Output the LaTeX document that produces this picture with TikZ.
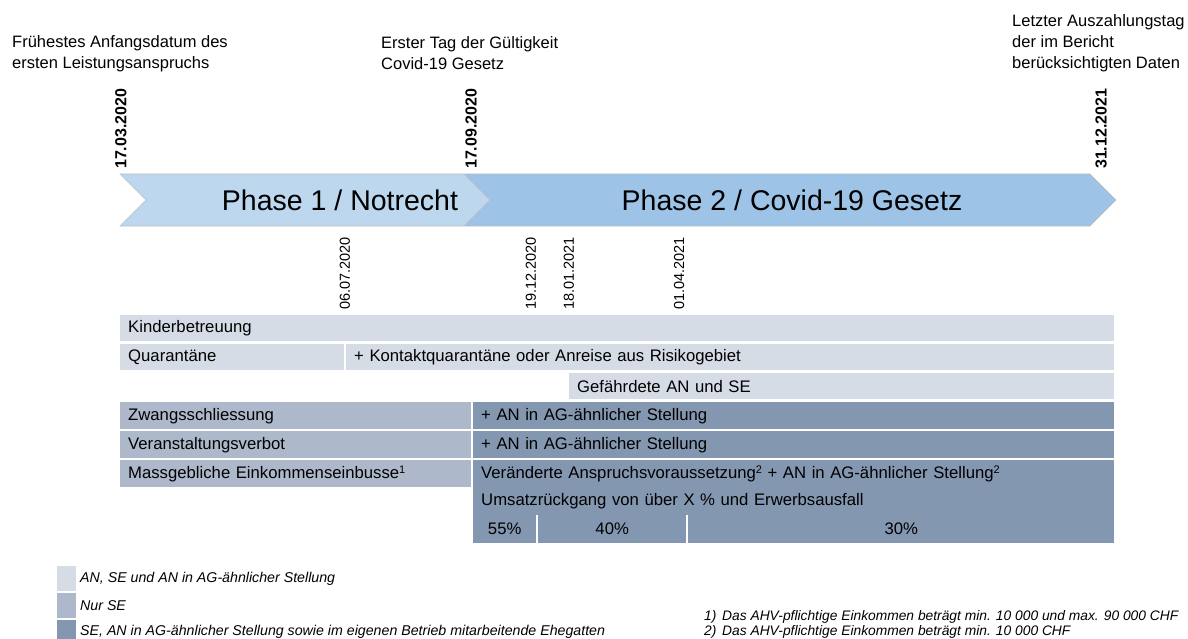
\documentclass[tikz,border=0pt]{standalone}
\usepackage{fontspec}
\setmainfont{Liberation Sans}
\usetikzlibrary{positioning}

\definecolor{phaseone}{HTML}{BDD7EE}
\definecolor{phasetwo}{HTML}{9DC3E6}
\definecolor{allrow}{HTML}{D6DCE5}
\definecolor{serow}{HTML}{ADB9CA}
\definecolor{agrow}{HTML}{8497B0}

\tikzset{
  cell/.style={anchor=north west, inner xsep=8pt, inner ysep=0pt, align=left,
    font=\fontsize{16.7}{19}\selectfont},
  pct/.style={anchor=north west, inner sep=0pt, align=center,
    minimum height=28pt, fill=agrow, font=\fontsize{16.7}{19}\selectfont},
  bigdate/.style={rotate=90, anchor=west, inner sep=0pt, font=\fontsize{16}{19}\selectfont\bfseries},
  smalldate/.style={rotate=90, anchor=west, inner sep=0pt, font=\fontsize{14.5}{17}\selectfont},
  toplabel/.style={anchor=west, align=left, inner sep=0pt, font=\fontsize{16.5}{21}\selectfont},
  keybox/.style={anchor=north west, inner sep=0pt, minimum width=19pt, minimum height=25pt},
  small/.style={anchor=west, inner sep=0pt, font=\fontsize{14.2}{16}\selectfont\itshape},
  note/.style={small, font=\fontsize{13.8}{16}\selectfont\itshape}
}
\newcommand{\fn}[1]{\raisebox{0.55ex}{\fontsize{11}{12}\selectfont #1}}

\begin{document}
\begin{tikzpicture}[x=1pt, y=-1pt]
\useasboundingbox (0,0) rectangle (1188,639);

% labels above the time line
\node[toplabel] (first) at (12,53.5) {Frühestes Anfangsdatum des\\ersten Leistungsanspruchs};
\node[toplabel] (law) at (381,53.5) {Erster Tag der Gültigkeit\\Covid-19 Gesetz};
\node[toplabel] (last) at (1012,43) {Letzter Auszahlungstag\\der im Bericht\\berücksichtigten Daten};

\node[bigdate] (d1) at (121,169) {17.03.2020};
\node[bigdate] (d2) at (471,169) {17.09.2020};
\node[bigdate] (d3) at (1101,169) {31.12.2021};

% the two phases
\filldraw[fill=phaseone, draw=black!25, line width=0.6pt]
  (120,174) -- (464,174) -- (490,200) -- (464,226) -- (120,226) -- (146,200) -- cycle;
\filldraw[fill=phasetwo, draw=black!25, line width=0.6pt]
  (464,174) -- (1090,174) -- (1116,200) -- (1090,226) -- (464,226) -- (490,200) -- cycle;
\node[font=\fontsize{28.5}{32}\selectfont] (p1) at (340,200) {Phase 1 / Notrecht};
\node[font=\fontsize{28.5}{32}\selectfont] (p2) at (792,200) {Phase 2 / Covid-19 Gesetz};

\node[smalldate] (s1) at (345,310) {06.07.2020};
\node[smalldate] (s2) at (531,310) {19.12.2020};
\node[smalldate] (s3) at (569,310) {18.01.2021};
\node[smalldate] (s4) at (679,310) {01.04.2021};

% rows
\node[cell, fill=allrow, text width=978pt, minimum height=26pt] (kind) at (120,315) {Kinderbetreuung};
\node[cell, fill=allrow, text width=208pt, minimum height=26pt] (quar) at (120,344) {Quarantäne};
\node[cell, fill=allrow, text width=752pt, minimum height=26pt] (kont) at (346,344) {+ Kontaktquarantäne oder Anreise aus Risikogebiet};
\node[cell, fill=allrow, text width=529pt, minimum height=26pt] (gef) at (569,373) {Gefährdete AN und SE};

\node[cell, fill=serow, text width=335pt, minimum height=27pt] (zwang) at (120,402) {Zwangsschliessung};
\node[cell, fill=agrow, text width=625pt, minimum height=27pt] (zwangag) at (473,402) {+ AN in AG-ähnlicher Stellung};
\node[cell, fill=serow, text width=335pt, minimum height=27pt] (veran) at (120,431) {Veranstaltungsverbot};
\node[cell, fill=agrow, text width=625pt, minimum height=27pt] (veranag) at (473,431) {+ AN in AG-ähnlicher Stellung};
\node[cell, fill=serow, text width=335pt, minimum height=27pt] (eink) at (120,460) {Massgebliche Einkommenseinbusse\fn{1}};
\node[cell, fill=agrow, text width=625pt, minimum height=27pt] (einkag) at (473,460) {Veränderte Anspruchsvoraussetzung\fn{2} + AN in AG-ähnlicher Stellung\fn{2}};
\node[cell, fill=agrow, text width=625pt, minimum height=28pt] (umsatz) at (473,487) {Umsatzrückgang von über X \% und Erwerbsausfall};

\node[pct, minimum width=63pt] (c55) at (473,515) {55\%};
\node[pct, minimum width=148pt] (c40) at (538,515) {40\%};
\node[pct, minimum width=426pt] (c30) at (688,515) {30\%};

% legend
\node[keybox, fill=allrow] (k1) at (57,566) {};
\node[keybox, fill=serow] (k2) at (57,593) {};
\node[keybox, fill=agrow] (k3) at (57,620) {};
\node[small] (t1) at (80,579) {AN, SE und AN in AG-ähnlicher Stellung};
\node[small] (t2) at (80,606) {Nur SE};
\node[small] (t3) at (80,632) {SE, AN in AG-ähnlicher Stellung sowie im eigenen Betrieb mitarbeitende Ehegatten};

% footnotes
\node[note] (f1) at (704,617) {1)};
\node[note] (f1t) at (722,617) {Das AHV-pflichtige Einkommen beträgt min. 10~000 und max. 90~000 CHF};
\node[note] (f2) at (704,632) {2)};
\node[note] (f2t) at (722,632) {Das AHV-pflichtige Einkommen beträgt min. 10~000 CHF};
\end{tikzpicture}
\end{document}
